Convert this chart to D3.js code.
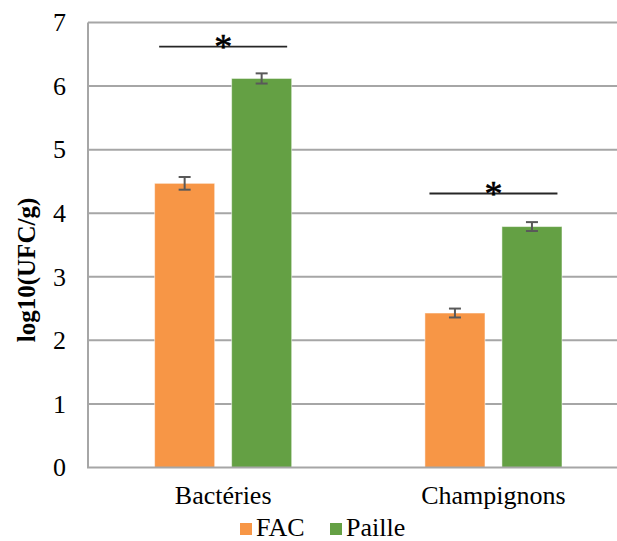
<!DOCTYPE html>
<html><head><meta charset="utf-8">
<script src="https://cdn.jsdelivr.net/npm/d3@7"></script>
<style>body{margin:0;background:#fff}svg{display:block}svg text{font-family:"Liberation Serif","Times New Roman","DejaVu Serif",serif}</style>
</head><body>
<svg id="c" width="617" height="541"></svg>
<script>
const categories = ["Bactéries", "Champignons"];
const seriesNames = ["FAC", "Paille"];
const facValues = [4.47, 2.43];
const pailleValues = [6.12, 3.79];
const facErrors = [0.10, 0.07];
const pailleErrors = [0.08, 0.07];
const sigLevels = [6.62, 4.31];
const sigLabels = ["*", "*"];
const yTicks = [0, 1, 2, 3, 4, 5, 6, 7];
const colors = ["#F79646", "#64A044"];

(function () {
const svg = d3.select("#c");
const pLeft = 88, pRight = 628.6, pTop = 22.5, pBottom = 467.5;

const y = d3.scaleLinear().domain([0, 7]).range([pBottom, pTop]);
const x = d3.scaleBand().domain(categories).range([pLeft, pRight]).padding(0);
const xs = d3.scaleBand().domain(seriesNames).range([0, x.bandwidth()]).paddingInner(0.22).paddingOuter(0.865);

// gridlines
svg.append("g").selectAll("line").data(yTicks.filter(t => t > 0)).join("line")
  .attr("x1", pLeft).attr("x2", 617).attr("y1", d => y(d)).attr("y2", d => y(d))
  .attr("stroke", "#A6A6A6").attr("stroke-width", 2);

// y axis labels
const yAxis = d3.axisLeft(y).tickValues(yTicks).tickSize(0).tickPadding(22).tickFormat(d3.format("d"));
const ya = svg.append("g").attr("transform", `translate(${pLeft},0)`).call(yAxis);
ya.select(".domain").remove();
ya.attr("font-family", null);
ya.selectAll("text").attr("font-size", 26).attr("fill", "#000");

const data = categories.map((c, i) => ({
  cat: c,
  vals: [{s: "FAC", v: facValues[i], e: facErrors[i]}, {s: "Paille", v: pailleValues[i], e: pailleErrors[i]}]
}));

const groups = svg.append("g").selectAll("g").data(data).join("g")
  .attr("transform", d => `translate(${x(d.cat)},0)`);
groups.selectAll("rect").data(d => d.vals).join("rect")
  .attr("x", d => xs(d.s)).attr("width", xs.bandwidth())
  .attr("y", d => y(d.v)).attr("height", d => y(0) - y(d.v))
  .attr("fill", (d, i) => colors[i])
  .attr("stroke", "#fff").attr("stroke-opacity", 0.5).attr("stroke-width", 1);

// error bars
const eb = groups.selectAll("g.eb").data(d => d.vals).join("g").attr("class", "eb");
eb.append("line")
  .attr("x1", d => xs(d.s) + xs.bandwidth() / 2).attr("x2", d => xs(d.s) + xs.bandwidth() / 2)
  .attr("y1", d => y(d.v + d.e)).attr("y2", d => y(d.v - d.e))
  .attr("stroke", "#595959").attr("stroke-width", 2);
eb.selectAll("line.cap").data(d => [{d, v: d.v + d.e}, {d, v: d.v - d.e}]).join("line").attr("class", "cap")
  .attr("x1", o => xs(o.d.s) + xs.bandwidth() / 2 - 6).attr("x2", o => xs(o.d.s) + xs.bandwidth() / 2 + 6)
  .attr("y1", o => y(o.v)).attr("y2", o => y(o.v))
  .attr("stroke", "#595959").attr("stroke-width", 2);

// axes lines
svg.append("line").attr("x1", pLeft).attr("x2", pLeft).attr("y1", pTop).attr("y2", pBottom)
  .attr("stroke", "#A6A6A6").attr("stroke-width", 2);
svg.append("line").attr("x1", pLeft - 1).attr("x2", 617).attr("y1", pBottom).attr("y2", pBottom)
  .attr("stroke", "#A6A6A6").attr("stroke-width", 2);

// significance
const sig = svg.append("g").selectAll("g").data(categories).join("g");
sig.append("line")
  .attr("x1", d => x(d) + x.bandwidth() / 2 - 64).attr("x2", d => x(d) + x.bandwidth() / 2 + 64)
  .attr("y1", (d, i) => y(sigLevels[i])).attr("y2", (d, i) => y(sigLevels[i]))
  .attr("stroke", "#262626").attr("stroke-width", 1.8);
sig.append("text")
  .attr("x", d => x(d) + x.bandwidth() / 2).attr("y", (d, i) => y(sigLevels[i]) + 12)
  .attr("text-anchor", "middle").attr("font-size", 36).attr("fill", "#000")
  .attr("stroke", "#000").attr("stroke-width", 0.6)
  .text((d, i) => sigLabels[i]);

// x labels
const xAxis = d3.axisBottom(x).tickSize(0).tickPadding(18);
const xa = svg.append("g").attr("transform", `translate(0,${pBottom})`).call(xAxis);
xa.select(".domain").remove();
xa.attr("font-family", null);
xa.selectAll("text").attr("font-size", 26).attr("fill", "#000");

// y title
svg.append("text").attr("transform", "translate(35,270) rotate(-90)")
  .attr("text-anchor", "middle").attr("font-weight", "bold")
  .attr("font-size", 25).attr("fill", "#000").text("log10(UFC/g)");

// legend
const legX = [240, 330];
const lg = svg.append("g").selectAll("g").data(seriesNames).join("g")
  .attr("transform", (d, i) => `translate(${legX[i]},523)`);
lg.append("rect").attr("width", 12).attr("height", 12).attr("fill", (d, i) => colors[i]);
lg.append("text").attr("x", 16).attr("y", 13).attr("font-size", 26)
  .attr("fill", "#000").text(d => d);
})();
</script>
</body></html>
